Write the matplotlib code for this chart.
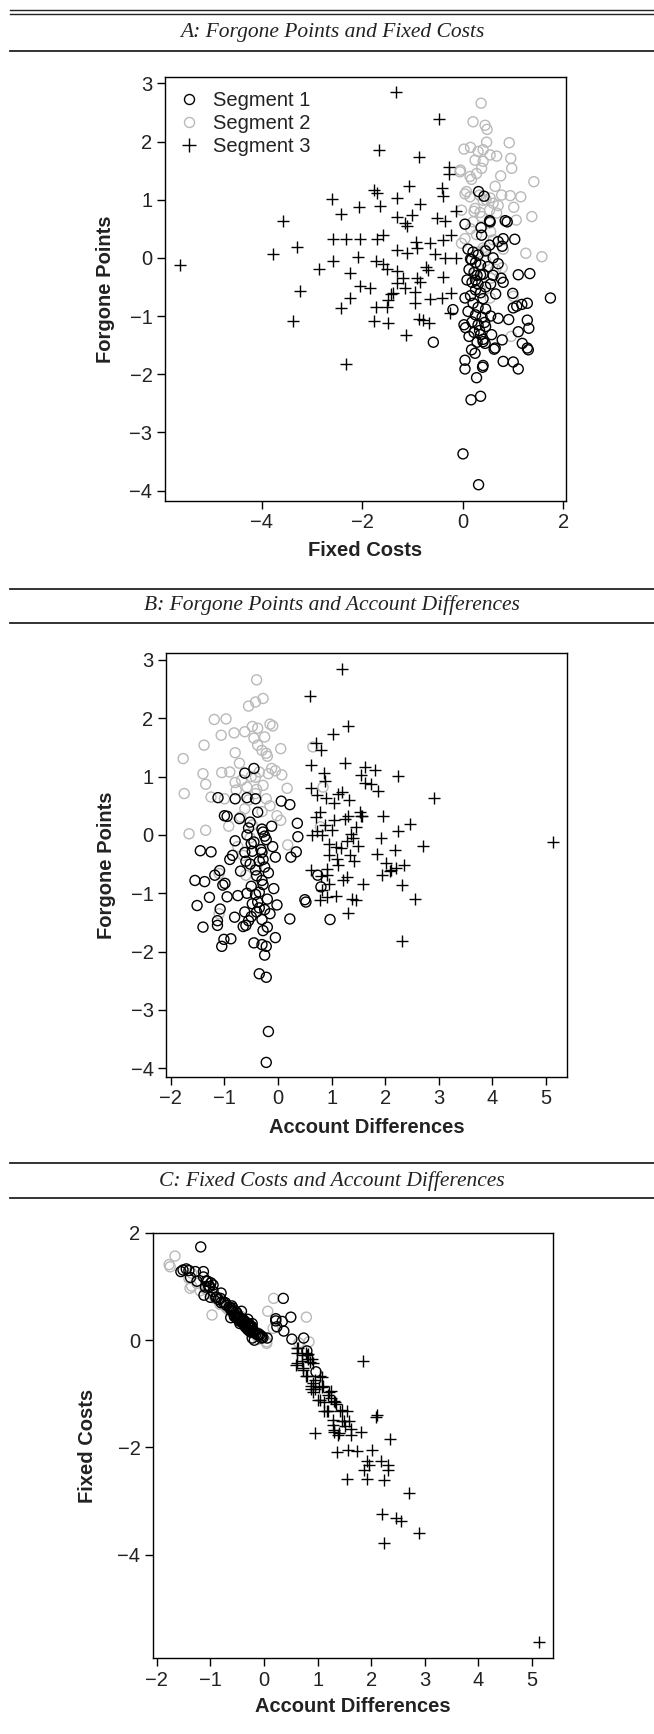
import matplotlib
matplotlib.use("Agg")
import matplotlib.pyplot as plt
from matplotlib.lines import Line2D

plt.rcParams['font.family'] = ['Liberation Sans', 'DejaVu Sans']

# Segment 1: (fixed costs, forgone points, account differences)
seg1_fc = [0.31, 0.42, 0.53, 0.84, 0.04, 0.36, 0.80, 1.03, 0.37, 0.53, 0.70, 0.54, 0.88,
           0.10, 0.20, 0.30, 0.45, 0.60, 0.15, 0.25, 0.35, 0.50, 0.70, 0.12, 0.22, 0.28, 0.40,
           0.60, 0.08, 0.18, 0.30, 0.45, 0.55, 0.25, 0.35, 0.15, 0.40, 0.65, 0.20, 0.30, 0.45,
           0.10, 0.25, 0.38, 0.55, 0.18, 0.30, 0.45, 0.22, 0.35, 0.12, 0.28, 0.40, 0.17, 0.24,
           0.04, 0.40, 0.33, 0.05,
           1.10, 1.33, 0.76, 0.80, 0.99, 1.74, 1.00, 1.07, 1.17, 1.28, 1.28, 1.31, 1.10, 0.91,
           0.70, 0.57, 0.78, 1.28, 1.18, 0.44, 0.64, 0.80, 1.00, 1.10, 1.30, 0.62,
           0.04, 0.39, 0.27, 0.16, 0.35, 0.00, 0.31,
           -0.59, -0.20, 0.78, 0.43, 0.17, 0.04, 0.25, 0.35, 0.40, 0.02]
seg1_fp = [1.14, 1.06, 0.64, 0.64, 0.58, 0.52, 0.33, 0.32, 0.39, 0.22, 0.28, 0.62, 0.62,
           0.15, 0.10, 0.05, 0.12, 0.00, -0.02, -0.08, -0.12, -0.15, -0.10, -0.20, -0.25, -0.30, -0.28,
           -0.30, -0.38, -0.42, -0.45, -0.50, -0.45, -0.55, -0.60, -0.65, -0.70, -0.62, -0.78, -0.85, -0.88,
           -0.92, -0.98, -1.02, -1.00, -1.10, -1.15, -1.18, -1.28, -1.32, -1.35, -1.45, -1.40, -1.58, -1.64,
           -1.76, -1.85, -1.25, -1.20,
           -0.29, -0.27, -0.35, -0.42, -0.61, -0.69, -0.86, -0.83, -0.80, -0.78, -1.07, -1.21, -1.27, -1.06,
           -1.04, -1.32, -1.41, -1.55, -1.47, -1.47, -1.55, -1.78, -1.79, -1.91, -1.58, -1.57,
           -1.91, -1.88, -2.06, -2.44, -2.38, -3.37, -3.90,
           -1.45, -0.89, 0.20, -1.11, -0.03, -0.69, -0.38, -0.29, -1.44, -1.15]
seg1_ad = [-0.45, -0.62, -0.58, -1.12, 0.06, 0.22, -1.00, -0.95, -0.38, -0.52, -0.72, -0.42, -0.80,
           -0.12, -0.30, -0.28, -0.55, -0.58, -0.25, -0.22, -0.45, -0.50, -0.80, -0.10, -0.32, -0.30, -0.48,
           -0.62, -0.05, -0.28, -0.35, -0.52, -0.60, -0.25, -0.42, -0.18, -0.40, -0.70, -0.30, -0.28, -0.50,
           -0.08, -0.35, -0.42, -0.58, -0.20, -0.38, -0.48, -0.25, -0.40, -0.15, -0.30, -0.50, -0.20, -0.28,
           -0.05, -0.45, -0.35, -0.02,
           -1.25, -1.45, -0.85, -0.90, -1.09, -1.18, -1.03, -0.99, -1.37, -1.55, -1.28, -1.51, -1.08, -0.95,
           -0.75, -0.62, -0.81, -1.13, -1.13, -0.55, -0.60, -0.88, -1.01, -1.05, -1.40, -0.65,
           -0.22, -0.30, -0.25, -0.22, -0.35, -0.18, -0.22,
           0.97, 0.80, 0.36, 0.50, 0.37, 0.74, 0.24, 0.34, 0.22, 0.52]

# Segment 2
seg2_fc = [0.36, 0.20, 0.44, 0.48, 0.47, 0.92, 0.02, 0.15, 0.30, 0.40, 0.54, 0.67, 0.95, 0.97,
           0.24, 0.40, -0.06, 0.14, 0.27, 0.37, 0.75, 1.41, 0.64, 0.17, 0.07, 0.04, 0.14, 0.33,
           0.46, 0.77, 0.94, 1.15, 0.40, 0.60, 1.01, 1.37, 0.24, 0.34, 0.53, 0.67, 0.87, 0.20,
           0.37, 1.06, 0.04, 0.27, 0.53, 0.60, -0.03, 0.40, 1.25, 1.57, 1.00, 0.30, 0.45, 0.25,
           0.55, 0.35, 0.65, 0.15, 0.55, 0.80, 0.70, 0.54, 0.96,
           -0.05, -0.03, 0.78, 0.54, 0.22, 0.43]
seg2_fp = [2.66, 2.34, 2.28, 2.21, 1.99, 1.98, 1.87, 1.90, 1.83, 1.86, 1.77, 1.75, 1.71, 1.54,
           1.68, 1.66, 1.48, 1.40, 1.45, 1.54, 1.41, 1.31, 1.23, 1.35, 1.14, 1.10, 1.05, 1.08,
           1.00, 1.08, 1.07, 1.05, 0.99, 0.94, 0.87, 0.71, 0.85, 0.78, 0.82, 0.77, 0.62, 0.62,
           0.71, 0.65, 0.33, 0.40, 0.60, 0.31, 0.25, 0.17, 0.08, 0.02, -0.66, 0.10, -0.05, -0.25,
           -0.35, -0.55, -0.20, 0.50, 0.45, 0.15, 0.90, -0.69, -1.35,
           1.51, 0.82, -0.17, 1.03, 0.80, 0.14]
seg2_ad = [-0.40, -0.28, -0.42, -0.55, -0.97, -1.19, -0.10, -0.15, -0.38, -0.48, -0.62, -0.82, -1.06, -1.38,
           -0.25, -0.45, 0.05, -0.22, -0.30, -0.38, -0.80, -1.77, -0.72, -0.20, -0.12, -0.05, -0.18, -0.35,
           -0.50, -0.90, -1.05, -1.40, -0.42, -0.68, -1.35, -1.75, -0.28, -0.40, -0.58, -0.78, -1.00, -0.22,
           -0.42, -1.25, -0.02, -0.30, -0.55, -0.70, 0.05, -0.48, -1.35, -1.66, -1.10, -0.30, -0.52, -0.28,
           -0.65, -0.40, -0.75, -0.15, -0.62, -0.92, -0.80, -0.60, -1.10,
           0.65, 0.84, 0.18, 0.07, 0.17, 0.79]

# Segment 3
seg3_fc = [-1.33, -0.47, -1.68, -0.87, -0.27, -0.27, -1.77, -1.72, -1.07, -0.42, -0.40, -2.61,
           -2.06, -1.66, -1.32, -0.86, -2.43, -3.59, -1.32, -1.15, -1.12, -1.02, -0.52, -0.36,
           -0.14, -2.59, -2.32, -2.04, -1.72, -1.60, -3.31, -3.79, -2.59, -2.08, -1.73, -1.31,
           -1.12, -0.94, -0.92, -0.66, -0.39, -0.23, -0.56, -0.36, -0.14, -5.63, -2.86, -2.25,
           -1.59, -1.51, -1.32, -0.74, -0.69, -1.19, -0.92, -0.39, -2.05, -1.85, -1.32, -1.15,
           -0.86, -3.24, -2.25, -1.49, -0.96, -0.66, -0.42, -0.23, -2.43, -1.73, -1.44, -0.96,
           -1.51, -1.77, -1.50, -0.87, -0.67, -3.38, -1.13, -2.32, -0.26, -0.79, -1.40]
seg3_fp = [2.85, 2.38, 1.86, 1.73, 1.57, 1.45, 1.16, 1.12, 1.24, 1.20, 1.07, 1.01,
           0.87, 0.89, 1.03, 0.92, 0.76, 0.64, 0.71, 0.60, 0.55, 0.73, 0.68, 0.64,
           0.80, 0.32, 0.32, 0.32, 0.32, 0.40, 0.19, 0.06, -0.05, 0.02, -0.05, 0.14,
           0.09, 0.28, 0.17, 0.25, 0.31, 0.40, 0.07, 0.00, 0.00, -0.12, -0.19, -0.26,
           -0.10, -0.19, -0.23, -0.15, -0.21, -0.35, -0.35, -0.33, -0.48, -0.52, -0.44, -0.52,
           -0.41, -0.57, -0.69, -0.72, -0.58, -0.71, -0.69, -0.60, -0.86, -0.84, -0.62, -0.77,
           -0.84, -1.09, -1.12, -1.05, -1.12, -1.09, -1.33, -1.82, -0.94, -1.07, -0.60]
seg3_ad = [1.20, 0.60, 1.30, 1.02, 0.70, 0.80, 1.62, 1.80, 1.25, 0.62, 0.85, 2.23,
           1.73, 1.62, 1.55, 0.88, 1.87, 2.90, 1.12, 1.32, 1.05, 1.20, 0.72, 0.90,
           0.62, 1.55, 1.95, 1.57, 1.30, 1.52, 2.47, 2.24, 1.92, 1.36, 1.40, 1.45,
           1.00, 1.25, 0.88, 1.05, 0.70, 0.78, 0.72, 0.82, 0.64, 5.12, 2.71, 2.19,
           1.28, 1.50, 1.18, 0.95, 1.08, 1.35, 0.95, 1.85, 2.02, 2.35, 1.42, 1.12,
           1.10, 2.20, 1.93, 1.28, 0.92, 0.80, 0.92, 0.62, 2.32, 0.95, 2.09, 1.22,
           1.58, 1.38, 1.45, 1.08, 0.78, 2.55, 1.30, 2.31, 0.82, 0.92, 2.10]

seg_labels = ['Segment 1', 'Segment 2', 'Segment 3']
gray = '#b9b9b9'

W, H = 654, 1734
fig = plt.figure(figsize=(W / 100, H / 100), dpi=100)


def px_axes(left, top, right, bottom):
    return fig.add_axes([left / W, 1 - bottom / H, (right - left) / W, (bottom - top) / H])


def hline(y, lw=1.3):
    fig.add_artist(Line2D([10 / W, 1.0], [1 - y / H, 1 - y / H], transform=fig.transFigure,
                          color='#222222', lw=lw))


def header(y_top, y_bot, y_text, text):
    hline(y_top)
    hline(y_bot)
    fig.text(332 / W, 1 - y_text / H, text, ha='center', va='center',
             family='Liberation Serif', style='italic', fontsize=15.5, color='#222222')


def scatter_panel(ax, xs, ys):
    x1, x2, x3 = xs
    y1, y2, y3 = ys
    ax.scatter(x2, y2, s=52, facecolors='none', edgecolors=gray, linewidths=1.0)
    ax.scatter(x1, y1, s=52, facecolors='none', edgecolors='black', linewidths=1.0)
    ax.scatter(x3, y3, s=85, marker='+', color='black', linewidths=1.0)
    for sp in ax.spines.values():
        sp.set_linewidth(1.0)
    ax.tick_params(direction='out', length=6, width=1.0, labelsize=14.5, pad=3,
                   labelcolor='#222222')


def axis_labels(ax, xlab, ylab, xpos, ypos):
    ax.set_xlabel(xlab, fontsize=14.5, fontweight='bold', color='#222222')
    ax.set_ylabel(ylab, fontsize=14.5, fontweight='bold', color='#222222')
    ax.xaxis.set_label_coords(0.5, xpos)
    ax.yaxis.set_label_coords(ypos, 0.5)


# header lines above panel A (double rule)
hline(10, 1.0)
hline(13.5, 1.0)
fig.text(332 / W, 1 - 33 / H, 'A: Forgone Points and Fixed Costs', ha='center', va='center',
         family='Liberation Serif', style='italic', fontsize=15.5, color='#222222')
hline(51)
header(589, 623, 605, 'B: Forgone Points and Account Differences')
header(1163, 1198, 1181, 'C: Fixed Costs and Account Differences')

# A: Fixed Costs vs Forgone Points
axA = px_axes(165, 77, 566, 501)
scatter_panel(axA, (seg1_fc, seg2_fc, seg3_fc), (seg1_fp, seg2_fp, seg3_fp))
axA.set_xlim(-5.93, 2.05)
axA.set_ylim(-4.18, 3.11)
axA.set_xticks([-4, -2, 0, 2])
axA.set_yticks([-4, -3, -2, -1, 0, 1, 2, 3])
axis_labels(axA, 'Fixed Costs', 'Forgone Points', -0.095, -0.125)
handles = [
    Line2D([], [], marker='o', ls='none', mfc='none', mec='black', ms=7.2, mew=1.0),
    Line2D([], [], marker='o', ls='none', mfc='none', mec=gray, ms=7.2, mew=1.0),
    Line2D([], [], marker='+', ls='none', color='black', ms=9.5, mew=1.0),
]
axA.legend(handles, seg_labels, loc='upper left', frameon=False, fontsize=14.5,
           handlelength=1.0, handletextpad=0.7, labelspacing=0.2, borderaxespad=0.3,
           labelcolor='#222222')

# B: Account Differences vs Forgone Points
axB = px_axes(166, 653, 567, 1077)
scatter_panel(axB, (seg1_ad, seg2_ad, seg3_ad), (seg1_fp, seg2_fp, seg3_fp))
axB.set_xlim(-2.09, 5.39)
axB.set_ylim(-4.15, 3.12)
axB.set_xticks(range(-2, 6))
axB.set_yticks([-4, -3, -2, -1, 0, 1, 2, 3])
axis_labels(axB, 'Account Differences', 'Forgone Points', -0.097, -0.125)

# C: Account Differences vs Fixed Costs
axC = px_axes(153, 1233, 553, 1658)
scatter_panel(axC, (seg1_ad, seg2_ad, seg3_ad), (seg1_fc, seg2_fc, seg3_fc))
axC.set_xlim(-2.07, 5.39)
axC.set_ylim(-5.93, 2.0)
axC.set_xticks(range(-2, 6))
axC.set_yticks([-4, -2, 0, 2])
axis_labels(axC, 'Account Differences', 'Fixed Costs', -0.092, -0.14)

fig.savefig('out.png', dpi=100, facecolor='white')
